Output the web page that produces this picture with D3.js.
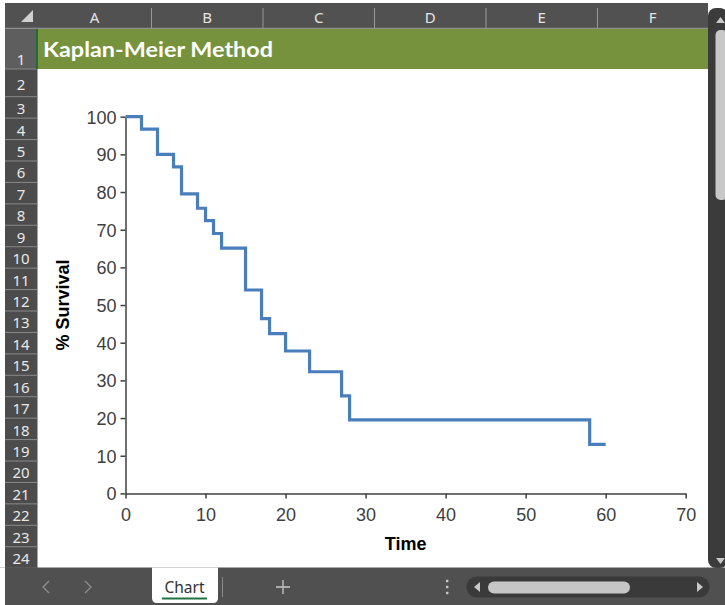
<!DOCTYPE html>
<html><head><meta charset="utf-8">
<script src="https://cdn.jsdelivr.net/npm/d3@7"></script>
<style>
html,body{margin:0;padding:0;background:#fff;}
svg{display:block;}
</style></head>
<body>
<svg id="c" width="725" height="605"></svg>
<script>
// ---- data ----
const times    = [0, 2, 4, 6, 7, 9, 10, 11, 12, 15, 17, 18, 20, 23, 27, 28, 58, 60];
const survival = [100, 96.7, 90.0, 86.7, 79.5, 75.7, 72.4, 69.0, 65.1, 54.0, 46.4, 42.4, 37.8, 32.3, 25.9, 19.5, 13.0, 13.0];
const xTicks = [0, 10, 20, 30, 40, 50, 60, 70];
const yTicks = [0, 10, 20, 30, 40, 50, 60, 70, 80, 90, 100];
const columns = ["A", "B", "C", "D", "E", "F"];
const rowLabels = d3.range(1, 25).map(String);
const title = "Kaplan-Meier Method";
const xTitle = "Time";
const yTitle = "% Survival";
const sheetName = "Chart";

const svg = d3.select("#c");
const W = 725, H = 605;

// ---- spreadsheet frame ----
svg.append("rect").attr("width", W).attr("height", H).attr("fill", "#ffffff");
// column header
const headerTop = 3, headerBot = 28.5, rowHdrL = 5, rowHdrR = 37.5, gridR = 708;
svg.append("rect").attr("x", rowHdrL).attr("y", headerTop).attr("width", gridR - rowHdrL).attr("height", headerBot - headerTop).attr("fill", "#515151");
// corner triangle
svg.append("path").attr("d", `M33,10 L33,22 L21,22 Z`).attr("fill", "#d0d0d0");
const colEdges = [rowHdrR, 151.5, 263, 374.5, 486, 597.5, gridR];
columns.forEach((c, i) => {
  const x0 = colEdges[i], x1 = colEdges[i + 1];
  svg.append("text").attr("x", (x0 + x1) / 2).attr("y", 23).attr("text-anchor", "middle")
    .attr("font-family", "Noto Sans, sans-serif").attr("font-size", 15).attr("fill", "#e4e4e4").text(c);
  if (i > 0) svg.append("line").attr("x1", x0).attr("x2", x0).attr("y1", 8).attr("y2", headerBot)
    .attr("stroke", "#9a9a9a").attr("stroke-width", 1);
});
svg.append("line").attr("x1", rowHdrL).attr("x2", gridR).attr("y1", headerBot).attr("y2", headerBot).attr("stroke", "#8f8f8f").attr("stroke-width", 1.5);

// rows
const rowEdges = [29, 69, 96.7];
for (let i = 3; i <= 24; i++) rowEdges.push(96.7 + (i - 2) * 21.43);
// row header bg
svg.append("rect").attr("x", rowHdrL).attr("y", 29).attr("width", rowHdrR - rowHdrL).attr("height", rowEdges[24] - 29).attr("fill", "#4c4c4c");
rowLabels.forEach((r, i) => {
  const y0 = rowEdges[i], y1 = rowEdges[i + 1];
  if (i === 0) svg.append("rect").attr("x", rowHdrL).attr("y", y0).attr("width", rowHdrR - rowHdrL).attr("height", y1 - y0).attr("fill", "#5e5e5e");
  svg.append("line").attr("x1", rowHdrL).attr("x2", rowHdrR).attr("y1", y1).attr("y2", y1).attr("stroke", "#8a8a8a").attr("stroke-width", 1);
  svg.append("text").attr("x", 21).attr("y", y1 - (i === 1 ? 7 : 4)).attr("text-anchor", "middle")
    .attr("font-family", "Noto Sans, sans-serif").attr("font-size", 15).attr("fill", "#e8e8e8").text(r);
});
// selection marker
svg.append("rect").attr("x", rowHdrR - 1.5).attr("y", 29).attr("width", 2).attr("height", 40).attr("fill", "#1e6b3c");

// title band row 1
svg.append("rect").attr("x", rowHdrR + 0.5).attr("y", 29).attr("width", gridR - rowHdrR - 0.5).attr("height", 40).attr("fill", "#76923C");
svg.append("text").attr("x", 43).attr("y", 57).attr("font-family", "Lato, sans-serif").attr("font-weight", "bold")
  .attr("font-size", 21).attr("fill", "#ffffff").attr("textLength", 230).attr("lengthAdjust", "spacingAndGlyphs").text(title);

// vertical scrollbar
svg.append("rect").attr("x", gridR).attr("y", 0).attr("width", W - gridR).attr("height", 568).attr("fill", "#ffffff");
svg.append("rect").attr("x", gridR).attr("y", 8).attr("width", 20).attr("height", 560).attr("rx", 8).attr("fill", "#3b3b3b");
svg.append("path").attr("d", "M716,23 L720.5,17 L725,23 Z").attr("fill", "#c8c8c8");
svg.append("rect").attr("x", 715.5).attr("y", 30).attr("width", 12).attr("height", 170).attr("rx", 5).attr("fill", "#c8c8c8");
svg.append("path").attr("d", "M716,558 L720.5,564 L725,558 Z").attr("fill", "#c8c8c8");

// bottom bar
svg.append("rect").attr("x", 0).attr("y", 567.5).attr("width", W).attr("height", H - 567.5).attr("fill", "#505050");
svg.append("rect").attr("x", 0).attr("y", 567.5).attr("width", 5).attr("height", H - 567.5).attr("fill", "#ffffff");
svg.append("path").attr("d", "M49,581 L43,587 L49,593").attr("fill", "none").attr("stroke", "#8e8e8e").attr("stroke-width", 1.3);
svg.append("path").attr("d", "M85,581 L91,587 L85,593").attr("fill", "none").attr("stroke", "#8e8e8e").attr("stroke-width", 1.3);
svg.append("path").attr("d", "M152,567.5 L218,567.5 L218,598 Q218,603 213,603 L157,603 Q152,603 152,598 Z").attr("fill", "#ffffff");
svg.append("text").attr("x", 184.5).attr("y", 593).attr("text-anchor", "middle").attr("font-family", "Noto Sans, sans-serif")
  .attr("font-size", 15.5).attr("fill", "#333333").text(sheetName);
svg.append("rect").attr("x", 162).attr("y", 597.5).attr("width", 45).attr("height", 2).attr("fill", "#217346");
svg.append("line").attr("x1", 222.5).attr("x2", 222.5).attr("y1", 577).attr("y2", 597).attr("stroke", "#8a8a8a");
svg.append("path").attr("d", "M283,580 L283,594 M276,587 L290,587").attr("stroke", "#c8c8c8").attr("stroke-width", 1.3);
[581, 587, 593].forEach(y => svg.append("rect").attr("x", 446).attr("y", y - 1.2).attr("width", 2.4).attr("height", 2.4).attr("fill", "#c8c8c8"));
svg.append("rect").attr("x", 466.5).attr("y", 576.5).attr("width", 243).attr("height", 21).attr("rx", 10.5).attr("fill", "#3a3a3a");
svg.append("rect").attr("x", 488).attr("y", 581.5).attr("width", 142).attr("height", 12).attr("rx", 6).attr("fill", "#c6c6c6");
svg.append("path").attr("d", "M474,587 L480,582 L480,592 Z").attr("fill", "#c8c8c8");
svg.append("path").attr("d", "M703,587 L697,582 L697,592 Z").attr("fill", "#c8c8c8");
svg.append("rect").attr("x", 0).attr("y", 0).attr("width", W).attr("height", 3).attr("fill", "#ffffff");

// ---- chart ----
const x = d3.scaleLinear().domain([0, 70]).range([125.5, 685.7]);
const y = d3.scaleLinear().domain([0, 100]).range([493.4, 116.7]);

const pts = times.map((t, i) => [t, survival[i]]);
const line = d3.line().x(d => x(d[0])).y(d => y(d[1])).curve(d3.curveStepAfter);

const gy = svg.append("g").attr("transform", `translate(${x(0)},0)`)
  .call(d3.axisLeft(y).tickValues(yTicks).tickSize(5).tickPadding(4).tickSizeOuter(0));
const gx = svg.append("g").attr("transform", `translate(0,${y(0)})`)
  .call(d3.axisBottom(x).tickValues(xTicks).tickSize(5).tickPadding(10).tickSizeOuter(0));
[gx, gy].forEach(g => {
  g.selectAll("path.domain").attr("stroke", "#404040").attr("stroke-width", 1.5);
  g.selectAll(".tick line").attr("stroke", "#404040").attr("stroke-width", 1.5);
  g.selectAll(".tick text").attr("font-family", "Liberation Sans, Arial, sans-serif").attr("font-size", 18).attr("fill", "#404040");
});
gy.selectAll(".tick text").attr("dy", "0.36em");

svg.append("path").datum(pts).attr("d", line).attr("fill", "none").attr("stroke", "#4A7EBB")
  .attr("stroke-width", 3.2).attr("stroke-linejoin", "miter");

svg.append("text").attr("transform", `translate(68.5,${(y(0) + y(100)) / 2}) rotate(-90)`).attr("text-anchor", "middle")
  .attr("font-family", "Liberation Sans, Arial, sans-serif").attr("font-weight", "bold").attr("font-size", 18).attr("fill", "#000").text(yTitle);
svg.append("text").attr("x", (x(0) + x(70)) / 2).attr("y", 550).attr("text-anchor", "middle")
  .attr("font-family", "Liberation Sans, Arial, sans-serif").attr("font-weight", "bold").attr("font-size", 18).attr("fill", "#000").text(xTitle);
</script>
</body></html>
